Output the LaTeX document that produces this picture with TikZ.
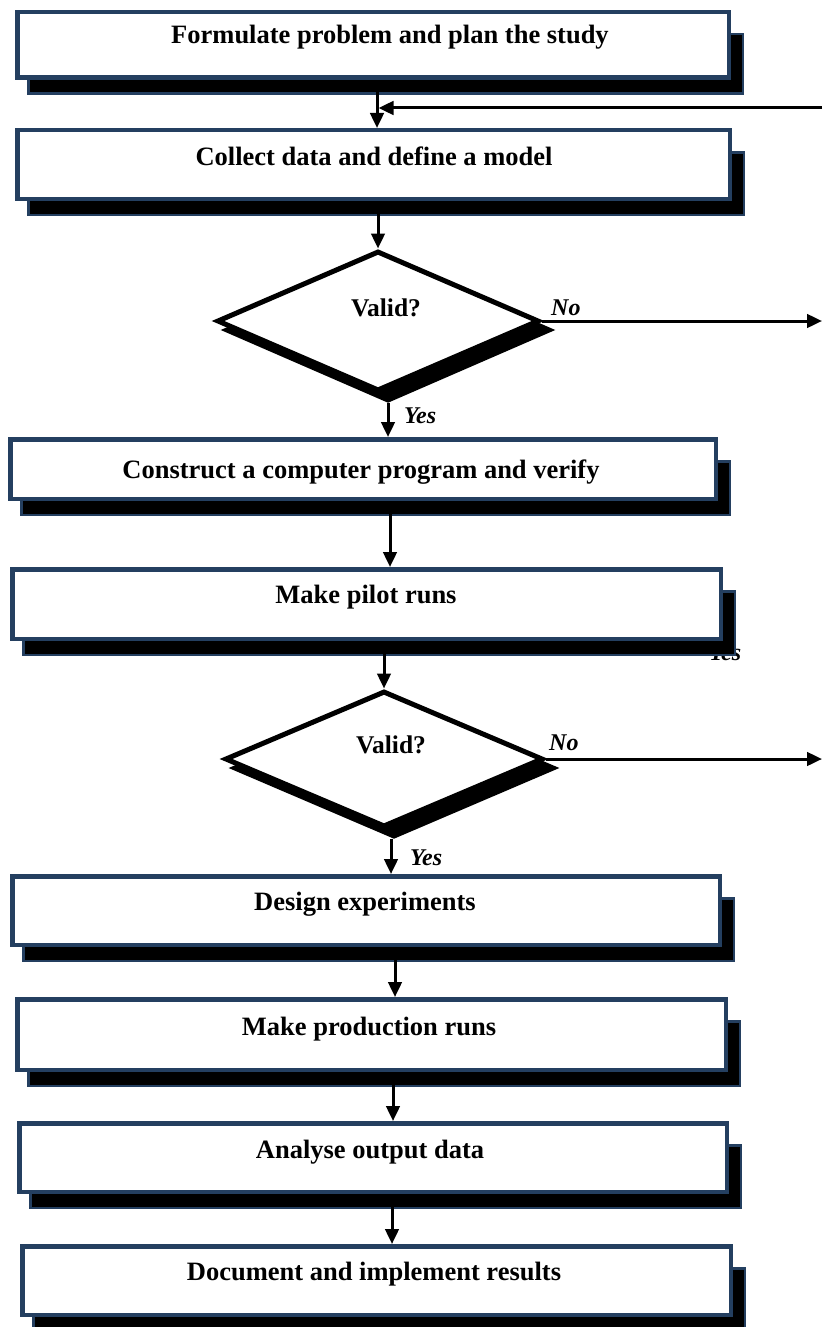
\documentclass[tikz,border=0pt]{standalone}
\usepackage{fontspec}
\setmainfont{Liberation Serif}
\usetikzlibrary{arrows.meta,shapes.geometric,calc}
\definecolor{navy}{HTML}{243F60}

\tikzset{
  stagebox/.style={rectangle, draw=navy, line width=4.5pt, fill=white, inner sep=0pt},
  stageshadow/.style={draw=navy, line width=2.5pt, fill=black},
  stagetext/.style={font=\fontsize{26.5}{30}\selectfont\bfseries, anchor=base, inner sep=0pt},
  decision/.style={diamond, draw=black, line width=5pt, fill=white, inner sep=0pt, line join=miter},
  decisionshadow/.style={fill=black, draw=black, line width=5pt, line join=miter},
  decisiontext/.style={font=\fontsize{25.5}{30}\selectfont\bfseries, anchor=base, inner sep=0pt},
  answer/.style={font=\fontsize{24}{28}\selectfont\bfseries\itshape, anchor=base west, inner sep=0pt},
  flow/.style={line width=3pt, -{Triangle[length=15pt,width=13.5pt]}},
}

% process box with its offset shadow: name, x1, y1, x2, y2, text x, text baseline, text
\newcommand\flowstage[8]{%
  \draw[stageshadow] (#2+13.25,#3+24.25) rectangle (#4+11.75,#5+13.75);
  \node[stagebox, minimum width={#4-#2-4.5}, minimum height={#5-#3-4.5}]
       (#1) at ({(#2+#4)/2},{(#3+#5)/2}) {};
  \node[stagetext] (#1-label) at (#6,#7) {#8};
}

% decision diamond with its offset shadow: name, cx, cy, half width, half height
\newcommand\flowdecision[5]{%
  \draw[decisionshadow] (#2-#4+10,#3+9) -- (#2+10,#3-#5+9) -- (#2+#4+10,#3+9)
        -- (#2+10,#3+#5+9) -- cycle;
  \node[decision, minimum width={2*#4}, minimum height={2*#5}] (#1) at (#2,#3) {};
}

\begin{document}
\begin{tikzpicture}[x=1pt,y=-1pt]
  \useasboundingbox (0,0) rectangle (822,1327);

  % process boxes
  \flowstage{b1}{15}{10}{731}{80}{390}{44}{Formulate problem and plan the study}
  \flowstage{b2}{15}{128}{732}{201}{374}{165}{Collect data and define a model}
  \flowstage{b3}{8}{437}{718}{501}{361}{478}{Construct a computer program and verify}

  % label tucked behind the pilot-runs box
  \node[answer] (hid-yes) at (709,660) {Yes};
  \flowstage{b4}{10}{567}{723}{641}{366}{603}{Make pilot runs}

  \flowstage{b5}{10}{874}{722}{947}{365}{910}{Design experiments}
  \flowstage{b6}{15}{997}{728}{1072}{369}{1035}{Make production runs}
  \flowstage{b7}{17}{1121}{729}{1194}{370}{1158}{Analyse output data}
  \flowstage{b8}{20}{1244}{733}{1317}{374}{1280}{Document and implement results}

  % decisions
  \flowdecision{d1}{378}{321}{161}{70}
  \node[decisiontext] (d1-label) at (386,316) {Valid?};
  \flowdecision{d2}{384}{759}{159}{68}
  \node[decisiontext] (d2-label) at (391,753) {Valid?};

  % branch labels
  \node[answer] (d1-no)  at (551,315) {No};
  \node[answer] (d1-yes) at (404,423) {Yes};
  \node[answer] (d2-no)  at (549,750) {No};
  \node[answer] (d2-yes) at (410,865) {Yes};

  % main flow
  \path (b1.south) ++(4,12) coordinate (s1);
  \draw[flow] (s1) -- (s1 |- b2.north);

  \coordinate (back) at (822,108);
  \draw[flow, shorten >=1.5pt] (back) -- (s1 |- back);

  \path (b2.south) ++(0,12) coordinate (s2);
  \draw[flow] (s2 -| d1.north) -- (d1.north);

  \coordinate (n1) at (822,321);
  \draw[flow] (d1.east) -- (n1);

  \path (d1.south) ++(10,9) coordinate (s3);
  \draw[flow] (s3) -- (s3 |- b3.north);

  \path (b3.south) ++(27,12) coordinate (s4);
  \draw[flow] (s4) -- (s4 |- b4.north);

  \path (b4.south) ++(0,12) coordinate (s5);
  \draw[flow] (s5 -| d2.north) -- (d2.north);

  \coordinate (n2) at (822,759);
  \draw[flow] (d2.east) -- (n2);

  \path (d2.south) ++(7,9) coordinate (s6);
  \draw[flow] (s6) -- (s6 |- b5.north);

  \path (b5.south) ++(29,12) coordinate (s7);
  \draw[flow] (s7) -- (s7 |- b6.north);

  \path (b6.south) ++(21.5,12) coordinate (s8);
  \draw[flow] (s8) -- (s8 |- b7.north);

  \path (b7.south) ++(19,12) coordinate (s9);
  \draw[flow] (s9) -- (s9 |- b8.north);
\end{tikzpicture}
\end{document}
